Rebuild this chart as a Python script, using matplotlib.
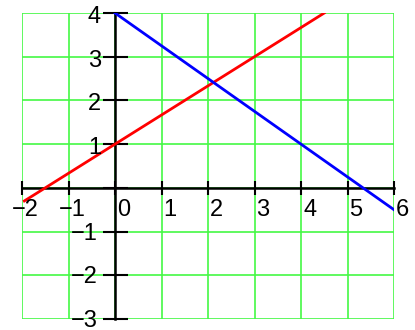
import matplotlib.pyplot as plt
import matplotlib.transforms as mtransforms
import numpy as np

plt.rcParams['font.family'] = ['Liberation Sans', 'DejaVu Sans']

# axis ranges and tick values
x_ticks = [-2, -1, 0, 1, 2, 3, 4, 5, 6]
y_ticks = [-3, -2, -1, 0, 1, 2, 3, 4]
y_labels = [-3, -2, -1, 1, 2, 3, 4]

# red line: y = 2/3 x + 1
red_x = [-1.95, 4.5]
red_y = [-0.3, 4.0]
# blue line: y = 4 - 3/4 x
blue_x = [0, 6]
blue_y = [4.0, -0.5]

fig = plt.figure(figsize=(4.15, 3.3), dpi=100)
ax = fig.add_axes([22/415, 1 - 319/330, (394 - 22)/415, (319 - 13)/330])
ax.set_xlim(-2, 6)
ax.set_ylim(-3, 4)

for xv in x_ticks:
    ax.axvline(xv, color='#44f844', lw=1.2, zorder=1)
for yv in y_ticks:
    ax.axhline(yv, color='#44f844', lw=1.2, zorder=1)

ax.plot(red_x, red_y, color='red', lw=2, zorder=3)
ax.plot(blue_x, blue_y, color='blue', lw=2, zorder=3)

for s in ['top', 'right']:
    ax.spines[s].set_visible(False)
ax.spines['left'].set_position('zero')
ax.spines['bottom'].set_position('zero')
ax.spines['left'].set_linewidth(1.8)
ax.spines['bottom'].set_linewidth(1.8)
ax.spines['left'].set_zorder(2)
ax.spines['bottom'].set_zorder(2)

ax.set_xticks(x_ticks)
ax.set_yticks(y_ticks)
ax.tick_params(axis='x', direction='inout', length=10, width=1.5, labelbottom=False)
ax.tick_params(axis='y', direction='inout', length=18, width=1.5, labelleft=False)

fs = 17
for xv in x_ticks:
    dx = -10 if xv < 0 else 2
    off = mtransforms.offset_copy(ax.transData, fig=fig, x=dx * 0.72, y=-22 * 0.72, units='points')
    ax.text(xv, 0, str(xv).replace('-', '\u2212'), transform=off, ha='left', va='center',
            fontsize=fs, zorder=4)
for yv in y_labels:
    dx = -17 if yv < 0 else -14
    dy = -2 if yv < 0 else -4
    off = mtransforms.offset_copy(ax.transData, fig=fig, x=dx * 0.72, y=dy * 0.72, units='points')
    ax.text(0, yv, str(yv).replace('-', '\u2212'), transform=off, ha='right', va='center',
            fontsize=fs, zorder=4)

fig.savefig('out.png', dpi=100)
